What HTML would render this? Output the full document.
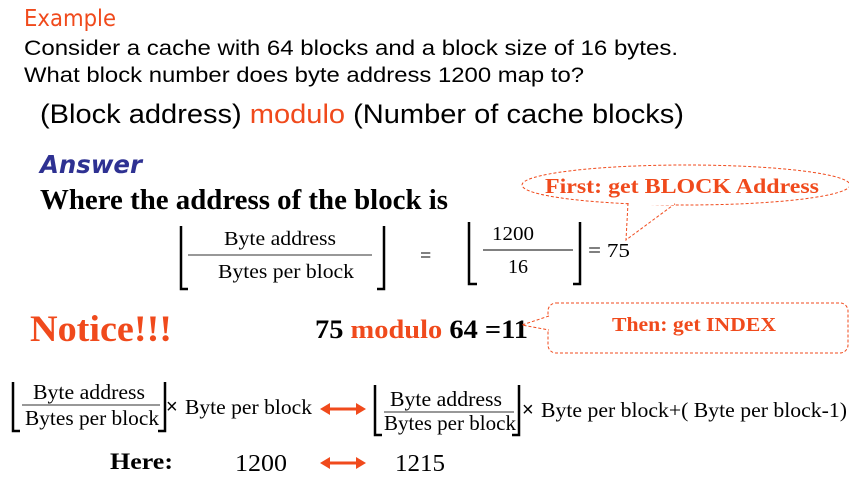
<!DOCTYPE html>
<html><head><style>html,body{margin:0;padding:0;background:#fff;width:849px;height:489px;overflow:hidden}</style></head>
<body>
<svg width="849" height="489" xmlns="http://www.w3.org/2000/svg" font-family="Liberation Serif, serif">
<text x="24" y="26" font-family="'Comic Sans MS','DejaVu Sans',sans-serif" font-size="23" fill="#f04a1c" textLength="92" lengthAdjust="spacingAndGlyphs">Example</text>
<g font-family="Liberation Sans, sans-serif" font-size="21" fill="#000">
<text x="24" y="55" textLength="654" lengthAdjust="spacingAndGlyphs">Consider a cache with 64 blocks and a block size of 16 bytes.</text>
<text x="24" y="82" textLength="560" lengthAdjust="spacingAndGlyphs">What block number does byte address 1200 map to?</text>
<text x="40" y="123" font-size="27" textLength="644" lengthAdjust="spacingAndGlyphs">(Block address) <tspan fill="#f04a1c">modulo</tspan> (Number of cache blocks)</text>
</g>
<text x="40" y="173" font-family="'Comic Sans MS','DejaVu Sans',sans-serif" font-weight="bold" font-style="italic" font-size="25" fill="#2e3192" textLength="102" lengthAdjust="spacingAndGlyphs">Answer</text>
<text x="40" y="209" font-weight="bold" font-size="28" textLength="408" lengthAdjust="spacingAndGlyphs">Where the address of the block is</text>
<g stroke="#000" stroke-width="2.5" fill="none">
<path d="M181,226 V289 H188"/><path d="M384,226 V289 H377"/>
<path d="M469,222 V284 H477"/><path d="M580,222 V284 H573"/>
</g>
<line x1="188" y1="255" x2="372" y2="255" stroke="#777" stroke-width="1.5"/>
<line x1="483" y1="250" x2="573" y2="250" stroke="#000" stroke-width="1"/>
<g font-size="20" fill="#000">
<text x="224" y="245" textLength="112" lengthAdjust="spacingAndGlyphs">Byte address</text>
<text x="218" y="278" textLength="136" lengthAdjust="spacingAndGlyphs">Bytes per block</text>
<text x="420" y="262">=</text>
<text x="492" y="240" textLength="42" lengthAdjust="spacingAndGlyphs">1200</text>
<text x="508" y="273">16</text>
<text x="588" y="257" textLength="42" lengthAdjust="spacingAndGlyphs">= 75</text>
</g>
<path d="M628,203 L626,240 L676,203" fill="#fff" stroke="#f04a1c" stroke-dasharray="3,2" stroke-width="1"/>
<ellipse cx="686" cy="185" rx="164" ry="20" fill="none" stroke="#f04a1c" stroke-dasharray="3,2" stroke-width="1"/>
<line x1="630" y1="204" x2="674" y2="204" stroke="#fff" stroke-width="2"/>
<text x="545" y="193" font-weight="bold" font-size="21" fill="#f04a1c" textLength="274" lengthAdjust="spacingAndGlyphs">First: get BLOCK Address</text>
<text x="30" y="341" font-weight="bold" font-size="37" fill="#f04a1c" textLength="142" lengthAdjust="spacingAndGlyphs">Notice!!!</text>
<text x="315" y="338" font-weight="bold" font-size="26" fill="#000" textLength="213" lengthAdjust="spacingAndGlyphs">75 <tspan fill="#f04a1c">modulo</tspan> 64 =11</text>
<rect x="548" y="303" width="300" height="50" rx="8" fill="none" stroke="#f04a1c" stroke-dasharray="3,2" stroke-width="1"/>
<path d="M549,316 L522,325 L549,330" fill="#fff" stroke="#f04a1c" stroke-dasharray="3,2" stroke-width="1"/>
<line x1="548" y1="317" x2="548" y2="329" stroke="#fff" stroke-width="2"/>
<text x="612" y="331" font-weight="bold" font-size="20" fill="#f04a1c" textLength="164" lengthAdjust="spacingAndGlyphs">Then: get INDEX</text>
<g stroke="#000" stroke-width="2.5" fill="none">
<path d="M13,382 V431 H20"/><path d="M165,382 V431 H158"/>
<path d="M375,385 V435 H382"/><path d="M519,385 V435 H512"/>
</g>
<line x1="22" y1="405" x2="160" y2="405" stroke="#777" stroke-width="1.5"/>
<line x1="384" y1="412" x2="514" y2="412" stroke="#777" stroke-width="1.5"/>
<g font-size="21" fill="#000">
<text x="33" y="399" textLength="112" lengthAdjust="spacingAndGlyphs">Byte address</text>
<text x="25" y="425" textLength="134" lengthAdjust="spacingAndGlyphs">Bytes per block</text>
<text x="166" y="413" font-family="Liberation Sans, sans-serif" font-size="20">×</text>
<text x="185" y="414" textLength="127" lengthAdjust="spacingAndGlyphs">Byte per block</text>
<text x="390" y="406" textLength="112" lengthAdjust="spacingAndGlyphs">Byte address</text>
<text x="384" y="430" textLength="132" lengthAdjust="spacingAndGlyphs">Bytes per block</text>
<text x="522" y="416" font-family="Liberation Sans, sans-serif" font-size="20">×</text>
<text x="541" y="417" textLength="306" lengthAdjust="spacingAndGlyphs">Byte per block+( Byte per block-1)</text>
<text x="110" y="469" font-weight="bold" font-size="23" textLength="63" lengthAdjust="spacingAndGlyphs">Here:</text>
<text x="235" y="471" font-size="24" textLength="52" lengthAdjust="spacingAndGlyphs">1200</text>
<text x="395" y="471" font-size="24" textLength="50" lengthAdjust="spacingAndGlyphs">1215</text>
</g>
<g stroke="#f04a1c" stroke-width="3">
<line x1="328" y1="409" x2="357" y2="409"/>
<line x1="328" y1="463" x2="357" y2="463"/>
</g>
<g fill="#f04a1c">
<polygon points="320,409 330,403 330,415"/><polygon points="366,409 356,403 356,415"/>
<polygon points="320,463 330,457 330,469"/><polygon points="366,463 356,457 356,469"/>
</g>
</svg>
</body></html>
